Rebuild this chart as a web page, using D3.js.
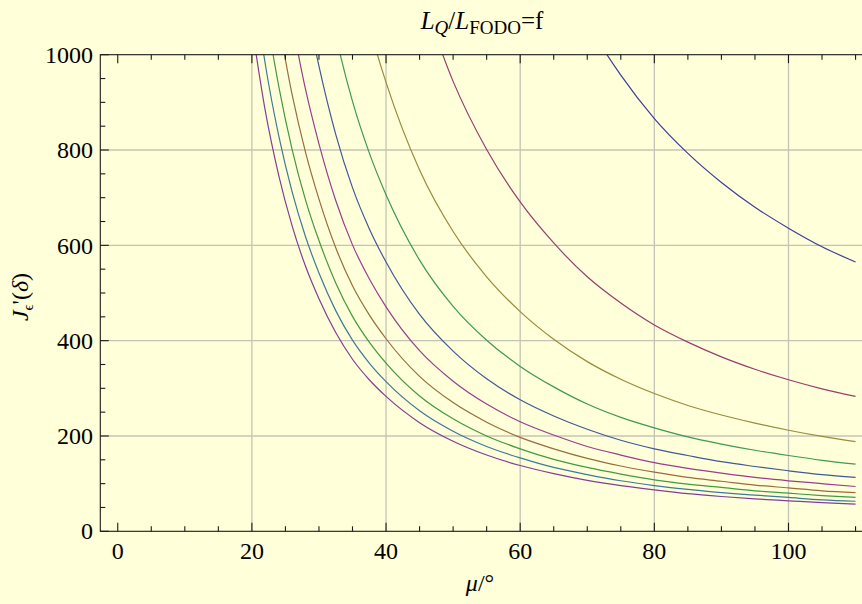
<!DOCTYPE html>
<html>
<head>
<meta charset="utf-8">
<script src="https://cdn.jsdelivr.net/npm/d3@7"></script>
<style>
  html, body { margin: 0; padding: 0; background: #ffffd9; }
  svg { display: block; }
  text { font-family: "Liberation Serif", "Times New Roman", serif; fill: #000; }
</style>
</head>
<body>
<svg id="chart" width="862" height="604"></svg>
<script>
// ---- data ----
const mu = [20, 22, 24, 26, 28, 30, 32.5, 35, 37.5, 40, 45, 50, 55, 60, 65, 70, 75, 80, 85, 90, 95, 100, 105, 110];
const series1  = [null, null, null, null, null, null, null, null, null, null, null, null, null, null, 1210, 1068, 957, 866, 793, 732, 680, 636, 597, 565];
const series2  = [null, null, null, null, null, null, null, null, null, null, 1138, 944, 801, 691, 605, 534, 479, 433, 397, 366, 340, 318, 299, 283];
const series3  = [null, null, null, null, null, null, null, 1202, 1059, 942, 758, 629, 534, 461, 403, 356, 319, 289, 264, 244, 227, 212, 199, 188];
const series4  = [null, null, null, null, null, 1220, 1041, 902, 794, 706, 569, 472, 401, 346, 303, 267, 239, 217, 198, 183, 170, 159, 149, 141];
const series5  = [null, null, null, null, 1113, 976, 833, 721, 635, 565, 455, 378, 320, 276, 242, 214, 191, 173, 159, 146, 136, 127, 119, 113];
const series6  = [null, null, null, 1068, 927, 813, 694, 601, 530, 471, 379, 315, 267, 230, 202, 178, 160, 144, 132, 122, 113, 106, 100, 94];
const series7  = [null, null, 1067, 916, 795, 697, 595, 515, 454, 404, 325, 270, 229, 197, 173, 153, 137, 124, 113, 105, 97, 91, 85, 81];
const series8  = [1325, 1103, 934, 801, 695, 610, 521, 451, 397, 353, 284, 236, 200, 173, 151, 134, 120, 108, 99, 92, 85, 80, 75, 71];
const series9  = [1178, 980, 830, 712, 618, 542, 463, 401, 353, 314, 253, 210, 178, 154, 134, 119, 106, 96, 88, 81, 76, 71, 66, 63];
const series10 = [1060, 882, 747, 641, 556, 488, 417, 361, 318, 283, 228, 189, 160, 138, 121, 107, 96, 87, 79, 73, 68, 64, 60, 57];
const allSeries = [series1, series2, series3, series4, series5, series6, series7, series8, series9, series10];
const seriesColors = ["#3f3d99", "#993d71", "#998b3d", "#3d9956", "#3d5a99",
                      "#993d90", "#996c3d", "#44993d", "#3d7a99", "#833d99"];
const xTicks = [0, 20, 40, 60, 80, 100];
const yTicks = [0, 200, 400, 600, 800, 1000];
const xGrid = [20, 40, 60, 80, 100];
const yGrid = [200, 400, 600, 800];

// ---- layout ----
const svg = d3.select("#chart");
const pL = 100.3, pR = 873, pT = 54.7, pB = 531.3;
const x = d3.scaleLinear().domain([-2.6, 112.6]).range([pL, pR]);
const y = d3.scaleLinear().domain([0, 1000]).range([pB, pT]);

svg.append("rect").attr("width", 862).attr("height", 604).attr("fill", "#ffffd9");

svg.append("defs").append("clipPath").attr("id", "clip")
  .append("rect").attr("x", pL).attr("y", pT).attr("width", pR - pL).attr("height", pB - pT);

// grid lines
const grid = svg.append("g").attr("stroke", "#c4c4b6").attr("stroke-width", 1.3);
grid.selectAll(".gx").data(xGrid).join("line").attr("class", "gx")
  .attr("x1", d => x(d)).attr("x2", d => x(d)).attr("y1", pT).attr("y2", pB);
grid.selectAll(".gy").data(yGrid).join("line").attr("class", "gy")
  .attr("y1", d => y(d)).attr("y2", d => y(d)).attr("x1", pL).attr("x2", pR);

// curves
const line = d3.line()
  .x(d => x(d[0])).y(d => y(d[1]))
  .curve(d3.curveMonotoneX);
const curves = svg.append("g").attr("clip-path", "url(#clip)");
allSeries.forEach((vals, i) => {
  const pts = mu.map((m, j) => [m, vals[j]]).filter(d => d[1] != null);
  curves.append("path").datum(pts)
    .attr("d", line).attr("fill", "none")
    .attr("stroke", seriesColors[i]).attr("stroke-width", 1.2);
});

// frame
svg.append("rect").attr("x", pL).attr("y", pT).attr("width", pR - pL).attr("height", pB - pT)
  .attr("fill", "none").attr("stroke", "#1a1a1a").attr("stroke-width", 1.1);

// ticks (inside, both sides)
const xMinor = d3.range(0, 111, 5).filter(v => !xTicks.includes(v));
const yMinor = d3.range(0, 1001, 50).filter(v => !yTicks.includes(v));
const tk = svg.append("g").attr("stroke", "#1a1a1a").attr("stroke-width", 1.1);
function xt(vals, len) {
  vals.forEach(v => {
    tk.append("line").attr("x1", x(v)).attr("x2", x(v)).attr("y1", pB).attr("y2", pB - len);
    tk.append("line").attr("x1", x(v)).attr("x2", x(v)).attr("y1", pT).attr("y2", pT + len);
  });
}
function yt(vals, len) {
  vals.forEach(v => {
    tk.append("line").attr("y1", y(v)).attr("y2", y(v)).attr("x1", pL).attr("x2", pL + len);
    tk.append("line").attr("y1", y(v)).attr("y2", y(v)).attr("x1", pR).attr("x2", pR - len);
  });
}
xt(xTicks, 8.5); xt(xMinor, 5);
yt(yTicks, 8.5); yt(yMinor, 5);

// tick labels
const fs = 24;
svg.append("g").selectAll("text").data(xTicks).join("text")
  .attr("x", d => x(d)).attr("y", 559).attr("text-anchor", "middle")
  .attr("font-size", fs).text(d => d);
svg.append("g").selectAll("text").data(yTicks).join("text")
  .attr("x", 93).attr("y", d => y(d)).attr("dy", "0.34em").attr("text-anchor", "end")
  .attr("font-size", fs).text(d => d);

// title
const title = svg.append("text").attr("x", 482).attr("y", 29).attr("text-anchor", "middle").attr("font-size", 25);
title.append("tspan").attr("font-style", "italic").text("L");
title.append("tspan").attr("font-style", "italic").attr("font-size", 19).attr("dy", 5).text("Q");
title.append("tspan").attr("dy", -5).text("/");
title.append("tspan").attr("font-style", "italic").text("L");
title.append("tspan").attr("font-size", 19).attr("dy", 5).text("FODO");
title.append("tspan").attr("dy", -5).text("=f");

// x label
const xl = svg.append("text").attr("x", 480).attr("y", 591).attr("text-anchor", "middle").attr("font-size", fs);
xl.append("tspan").attr("font-style", "italic").text("μ");
xl.append("tspan").text("/°");

// y label
const yl = svg.append("text").attr("transform", "translate(28,297) rotate(-90)")
  .attr("text-anchor", "middle").attr("font-size", fs);
yl.append("tspan").attr("font-style", "italic").text("J");
yl.append("tspan").attr("font-size", 15).attr("dy", 5).text("ϵ");
yl.append("tspan").attr("dy", -5).text("'(");
yl.append("tspan").attr("font-style", "italic").text("δ");
yl.append("tspan").text(")");
</script>
</body>
</html>
